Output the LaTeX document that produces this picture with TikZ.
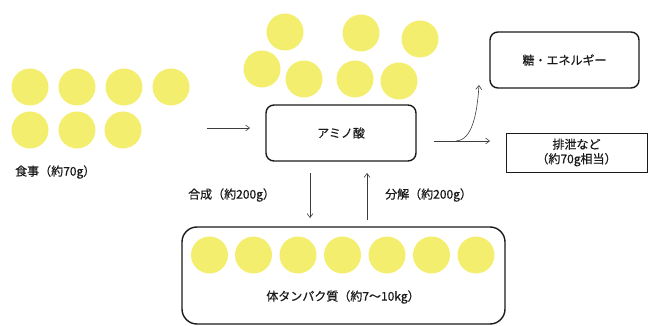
\documentclass[tikz,border=0pt]{standalone}
\usepackage{fontspec}
\setmainfont[FakeBold=0.5]{Noto Sans CJK JP}
\usetikzlibrary{arrows.meta}
\definecolor{ball}{HTML}{F4EE6E}
\definecolor{ink}{HTML}{1A1A1A}
\begin{document}
\begin{tikzpicture}[x=1pt,y=-1pt,
  ballst/.style={circle,fill=ball,minimum size=37pt,inner sep=0pt},
  rbox/.style={draw=ink,line width=1.4pt,rounded corners=8pt},
  sbox/.style={draw=ink,line width=0.8pt},
  lbl/.style={font=\fontsize{12}{15}\selectfont,text=ink,inner sep=0pt},
  arr/.style={draw=ink!85,line width=0.6pt,-{Straight Barb[length=4pt,width=6pt]}}]
\useasboundingbox (0,0) rectangle (648,326);
% food
\foreach \x/\y [count=\i] in {30/87,77/87,124/87,171/87,30/130,77/130,123/130}
  \node[ballst] (f\i) at (\x,\y) {};
\node[lbl,anchor=west] (food) at (15,172) {食事（約70g）};
% top balls
\foreach \x/\y [count=\i] in {285/32,262/69,304/79,361/33,355/79,420/39,399/81}
  \node[ballst] (t\i) at (\x,\y) {};
% amino box
\node[rbox,minimum width=150pt,minimum height=56pt,lbl] (amino) at (341,133) {アミノ酸};
% energy box
\node[rbox,minimum width=149pt,minimum height=56pt,lbl] (energy) at (564.5,60) {糖・エネルギー};
% excretion
\node[sbox,minimum width=141pt,minimum height=39pt,lbl,align=center,font=\fontsize{12}{14.5}\selectfont] (excr) at (576.5,152.5) {排泄など\\（約70g相当）};
% body box
\draw[rbox,rounded corners=15pt] (182,227) rectangle (505,324);
\coordinate (bodytop) at (343,227);
\foreach \x [count=\i] in {209.5,253.5,298,342.5,387,431.5,476}
  \node[ballst] (b\i) at (\x,255) {};
\node[lbl] (body) at (343,297) {体タンパク質（約7〜10kg）};
% arrows
\coordinate (fa1) at (207,128);
\coordinate (fa2) at (250,128);
\draw[arr] (fa1) -- (fa2);
\coordinate (da1) at (310,173);
\coordinate (da2) at (310,218);
\draw[arr] (da1) -- (da2);
\coordinate (ua1) at (367,220);
\coordinate (ua2) at (367,173);
\draw[arr] (ua1) -- (ua2);
\node[lbl,anchor=west] (syn) at (188,195) {合成（約200g）};
\node[lbl,anchor=west] (dec) at (385,195) {分解（約200g）};
\coordinate (ra0) at (434,141);
\coordinate (ra1) at (490,141);
\draw[arr] (ra0) -- (ra1);
\coordinate (rb0) at (456,141);
\coordinate (rb1) at (479,85);
\draw[arr] (rb0) .. controls (472,140) and (477,115) .. (rb1);
\end{tikzpicture}
\end{document}
